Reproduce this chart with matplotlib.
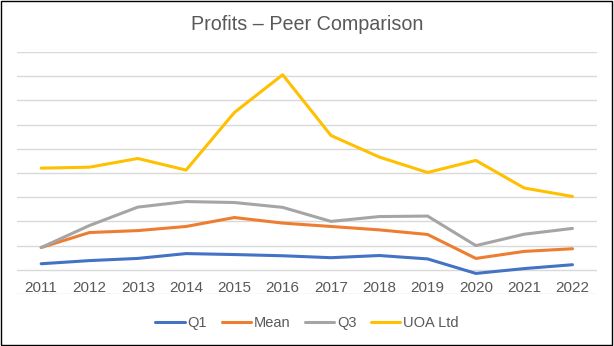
import matplotlib
matplotlib.use("Agg")
import matplotlib.pyplot as plt
from matplotlib.patches import Rectangle

# values (units = gridline steps)
years = ["2011", "2012", "2013", "2014", "2015", "2016",
         "2017", "2018", "2019", "2020", "2021", "2022"]
q1 = [0.25, 0.38, 0.47, 0.67, 0.63, 0.58, 0.50, 0.59, 0.45, -0.15, 0.05, 0.21]
mean = [0.92, 1.54, 1.62, 1.79, 2.16, 1.93, 1.79, 1.65, 1.46, 0.47, 0.76, 0.87]
q3 = [0.92, 1.83, 2.59, 2.82, 2.78, 2.58, 2.00, 2.20, 2.22, 1.00, 1.47, 1.71]
uoa = [4.20, 4.24, 4.60, 4.12, 6.50, 8.06, 5.55, 4.66, 4.02, 4.52, 3.38, 3.03]

series = [("Q1", q1, "#4472C4"), ("Mean", mean, "#ED7D31"),
          ("Q3", q3, "#A5A5A5"), ("UOA Ltd", uoa, "#FFC000")]

plt.rcParams["font.family"] = ["Liberation Sans", "DejaVu Sans"]
text_col = "#595959"

fig = plt.figure(figsize=(6.14, 3.46), dpi=100)
ax = fig.add_axes([0.0277, 0.1503, 0.944, 0.6994])

x = list(range(len(years)))
for name, vals, col in series:
    ax.plot(x, vals, color=col, linewidth=2.2, label=name, solid_capstyle="round")

ax.set_xlim(-0.5, len(years) - 0.5)
ax.set_ylim(-1, 9)
ax.set_yticks(range(-1, 10))
ax.set_yticklabels([])
ax.set_xticks(x)
ax.set_xticklabels(years, color=text_col, fontsize=11)
ax.tick_params(axis="both", length=0)
# category labels sit next to the zero line, as in Excel
ax.tick_params(axis="x", pad=-9.5)
ax.grid(axis="y", color="#D9D9D9", linewidth=1)
ax.set_axisbelow(True)
for s in ax.spines.values():
    s.set_visible(False)

fig.text(0.5, 0.928, "Profits \u2013 Peer Comparison", ha="center", va="center",
         fontsize=14.2, color=text_col)

fig.legend(loc="center", bbox_to_anchor=(0.5, 0.066), ncol=4, frameon=False,
           fontsize=10.5, labelcolor=text_col, handlelength=2.0,
           handletextpad=0.2, columnspacing=1.0)

fig.patches.append(Rectangle((0.002, 0.003), 0.995, 0.993, transform=fig.transFigure,
                             fill=False, edgecolor="#000000", linewidth=1))

fig.savefig("out.png", dpi=100)
